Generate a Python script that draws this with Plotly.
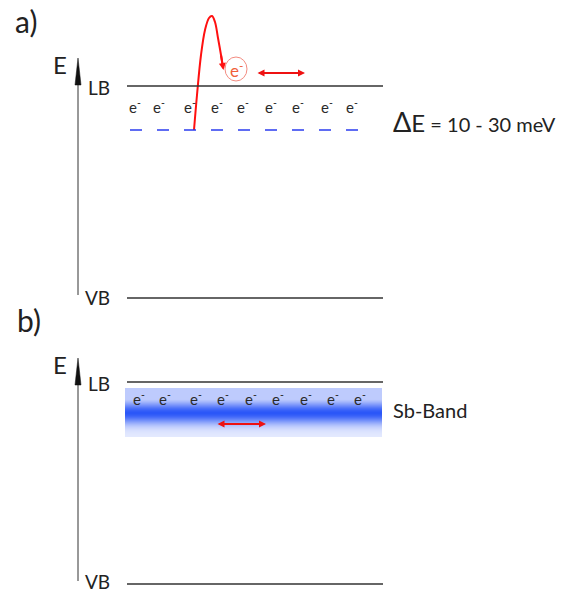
import numpy as np
import plotly.graph_objects as go

# ---- data (diagram values, pixel space of a 563x593 canvas) ----
panel_labels = ["a)", "b)"]
panel_label_y = [21, 320]
lb_y = [86, 382]          # conduction band (LB) level per panel
vb_y = [298, 584]         # valence band (VB) level per panel
vb_label_y = [297, 581]
axis_top = [58, 358]      # tip of E arrow
level_x = [127, 383]
donor_y = 130             # dashed donor level in panel a
electrons_a_x = [135, 159, 190, 217, 243, 271, 298, 327, 352]
electrons_a_y = 106
electrons_b_x = [139, 165, 196, 223, 251, 278, 306, 333, 360]
electrons_b_y = 398
band_x = [125, 382]
band_y = [388, 437]
jump_x = [194, 197, 201, 205, 209, 212, 215, 218, 221, 223]
jump_y = [130, 95, 55, 30, 18, 16, 22, 38, 55, 68]
free_e = (236, 69)
move_a = [257, 305, 73]
move_b = [217, 266, 424]
delta_text = "ΔE = 10 - 30 meV"
band_text = "Sb-Band"

FONT = "Lato"
fig = go.Figure()
shapes = []
ann = []

# gradient band (style profile)
ny = 50
yedges = np.linspace(band_y[0], band_y[1], ny + 1)
yc = (yedges[:-1] + yedges[1:]) / 2
prof = 0.12 + 0.88 * np.exp(-((yc - 413) / 11.0) ** 2)
prof = np.where(yc < 413, np.maximum(prof, 0.3), prof)
fig.add_trace(go.Heatmap(x=band_x, y=yedges, z=prof.reshape(-1, 1),
                         colorscale=[[0, "#ffffff"], [0.5, "#93a9fb"], [1, "#2a56f8"]],
                         zmin=0, zmax=1, showscale=False, hoverinfo="skip"))

for i in range(2):
    ann.append(dict(x=26 + 3 * i, y=panel_label_y[i], text=panel_labels[i],
                    font=dict(size=30, color="#222")))
    ann.append(dict(x=60, y=axis_top[i] + 6, text="E", font=dict(size=24, color="#222")))
    ann.append(dict(x=99, y=lb_y[i] + 1, text="LB", font=dict(size=19, color="#222")))
    ann.append(dict(x=97, y=vb_label_y[i], text="VB", font=dict(size=19, color="#222")))
    shapes.append(dict(type="line", x0=level_x[0], x1=level_x[1], y0=lb_y[i], y1=lb_y[i],
                       line=dict(color="#333", width=1.5)))
    shapes.append(dict(type="line", x0=level_x[0], x1=level_x[1], y0=vb_y[i], y1=vb_y[i],
                       line=dict(color="#333", width=1.5)))
    # E axis arrow
    ax_x = 78
    shapes.append(dict(type="line", x0=ax_x, x1=ax_x, y0=axis_top[i] + 20, y1=vb_y[i] - 3,
                       line=dict(color="#333", width=1)))
    shapes.append(dict(type="path",
                       path=f"M {ax_x-3} {axis_top[i]+27} L {ax_x} {axis_top[i]} L {ax_x+3} {axis_top[i]+27} Z",
                       fillcolor="#111", line=dict(color="#111", width=0.5)))

# donor level dashed
shapes.append(dict(type="line", x0=130, x1=362, y0=donor_y, y1=donor_y,
                   line=dict(color="#2b3cf0", width=1.7, dash="12px,15px")))

for xs, yv in [(electrons_a_x, electrons_a_y), (electrons_b_x, electrons_b_y)]:
    for xv in xs:
        ann.append(dict(x=xv, y=yv, text="e<sup>-</sup>", font=dict(size=15, color="#2a2a2a")))

# jump trajectory
fig.add_trace(go.Scatter(x=jump_x, y=jump_y, mode="lines",
                         line=dict(color="#ff1010", width=2, shape="spline"),
                         hoverinfo="skip", showlegend=False))
ann.append(dict(x=jump_x[-1] + 0.5, y=jump_y[-1] + 2, ax=jump_x[-2], ay=jump_y[-2],
                axref="x", ayref="y", text="", showarrow=True, arrowhead=2,
                arrowsize=0.7, arrowwidth=2, arrowcolor="#ff1010"))

# free electron circle
shapes.append(dict(type="circle", x0=free_e[0] - 11, x1=free_e[0] + 11,
                   y0=free_e[1] - 12, y1=free_e[1] + 12,
                   line=dict(color="#f38b80", width=1)))
ann.append(dict(x=free_e[0], y=free_e[1], text="e<sup>-</sup>",
                font=dict(size=17, color="#f0603a")))

for m in (move_a, move_b):
    ann.append(dict(x=m[1], y=m[2], ax=m[0], ay=m[2], axref="x", ayref="y", text="",
                    showarrow=True, arrowhead=2, arrowside="end+start", arrowsize=0.7,
                    arrowwidth=2, arrowcolor="#ee1111"))

ann.append(dict(x=392, y=121, xanchor="left",
                text="<span style='font-size:27px'>Δ</span><span style='font-size:24px'>E</span> = 10 - 30 meV",
                font=dict(size=20, color="#222")))
ann.append(dict(x=392, y=410, xanchor="left", text=band_text, font=dict(size=20, color="#222")))

for a in ann:
    a.setdefault("showarrow", False)
    a.setdefault("xref", "x")
    a.setdefault("yref", "y")
    a.setdefault("borderpad", 0)
    a.setdefault("font", {})
    a["font"].setdefault("family", FONT)

fig.update_layout(width=563, height=593, margin=dict(l=0, r=0, t=0, b=0),
                  paper_bgcolor="white", plot_bgcolor="white",
                  shapes=shapes, annotations=ann, showlegend=False,
                  font=dict(family=FONT),
                  xaxis=dict(range=[0, 563], visible=False, fixedrange=True),
                  yaxis=dict(range=[593, 0], visible=False, fixedrange=True))
fig.write_html("out.html")
